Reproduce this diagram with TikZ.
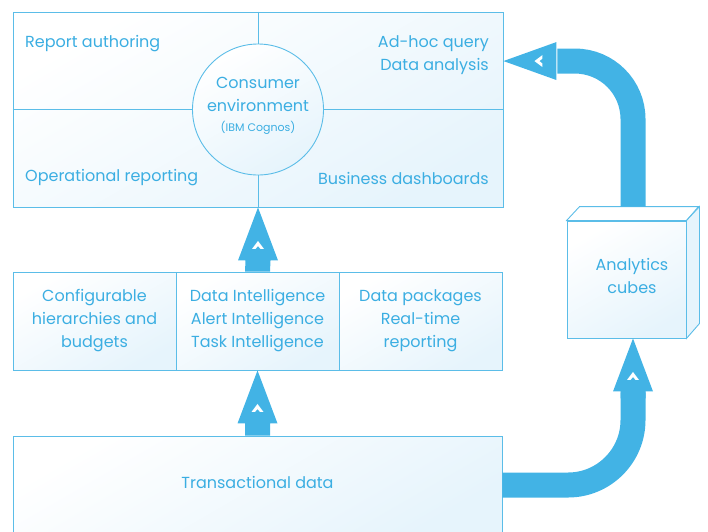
\documentclass[tikz,border=0pt]{standalone}
\usepackage{fontspec}
\setmainfont{Poppins}
\usetikzlibrary{calc}
\definecolor{txtc}{HTML}{3BAEE2}
\definecolor{linec}{HTML}{5BBDE8}
\definecolor{arrowc}{HTML}{42B3E5}
\definecolor{boxblue}{HTML}{E6F4FC}
\tikzset{
  box/.style={draw=linec, line width=0.9pt, top color=white, bottom color=boxblue, shading angle=30, inner sep=0pt, text=txtc, align=center, font=\fontsize{16}{23}\selectfont},
  divider/.style={draw=linec, line width=0.9pt},
  lbl/.style={text=txtc, inner sep=0pt, font=\fontsize{16}{23}\selectfont},
  fatline/.style={draw=arrowc, line width=25pt},
  chev/.style={fill=white},
}
\newcommand\fatup[2]{%
  \fill[arrowc] ($(#1)+(-12.5,0)$) -- ($(#2)+(-12.5,53)$) -- ($(#2)+(-20,53)$) -- (#2) -- ($(#2)+(20,53)$) -- ($(#2)+(12.5,53)$) -- ($(#1)+(12.5,0)$) -- cycle;
  \fill[chev] ($(#2)+(0,33.5)$) -- ++(6,8) -- ++(-3.5,0) -- ++(-2.5,-3) -- ++(-2.5,3) -- ++(-3.5,0) -- cycle;
}
\begin{document}
\begin{tikzpicture}[x=1pt,y=-1pt]
\useasboundingbox (0,0) rectangle (708,531);
% top box
\node[box, minimum width=490pt, minimum height=195pt] (top) at (258,109.5) {};
\node[box, circle, minimum size=131pt] (cons) at (258,109.5) {};
\node[lbl, align=center] (consT) at (258,106)
  {Consumer\\environment\\[-3pt]{\fontsize{11}{12}\selectfont (IBM Cognos)}};
\draw[divider] (top.north) -- (cons.north);
\draw[divider] (cons.south) -- (top.south);
\draw[divider] (top.west) -- (cons.west);
\draw[divider] (cons.east) -- (top.east);
\node[lbl, anchor=west] (ra) at (25,44) {Report authoring};
\node[lbl, anchor=west] (op) at (25,178) {Operational reporting};
\node[lbl, anchor=east, align=right] (ah) at (489,55.5) {Ad-hoc query\\Data analysis};
\node[lbl, anchor=east] (bd) at (489,178) {Business dashboards};
% middle boxes
\node[box, minimum width=163pt, minimum height=98pt] (m1) at (94.5,321) {Configurable\\hierarchies and\\budgets};
\node[box, minimum width=163pt, minimum height=98pt] (m2) at (257.5,321) {Data Intelligence\\Alert Intelligence\\Task Intelligence};
\node[box, minimum width=163pt, minimum height=98pt] (m3) at (420.5,321) {Data packages\\Real-time\\reporting};
% bottom box
\node[box, minimum width=489pt, minimum height=98pt] (bot) at (257.5,485) {};
\node[lbl] (botT) at (257.5,482) {Transactional data};
% cube
\node[box, minimum width=119pt, minimum height=117pt] (cube) at (626.5,279.5) {};
\node[lbl, align=center] (cubeT) at (632,275.5) {Analytics\\cubes};
\filldraw[draw=linec, line width=0.9pt, fill=white] (cube.north west) -- ++(13,-14) -- ++(119,0) -- (cube.north east) -- cycle;
\filldraw[draw=linec, line width=0.9pt, fill=boxblue] (cube.north east) -- ++(13,-14) -- ++(0,117) -- (cube.south east) -- cycle;
% straight arrows
\fatup{m2.north}{top.south}
\fatup{bot.north}{m2.south}
% curved arrow bottom -> cube
\coordinate (cb) at ($(cube.south)+(6.5,0)$);
\draw[fatline, rounded corners=65pt] (bot.east) -- (bot.east -| cb) -- ($(cb)+(0,54)$);
\fatup{$(cb)+(0,60)$}{cb}
% curved arrow cube -> top
\coordinate (ct) at ($(cube.north)+(6.5,-14)$);
\coordinate (tip) at ($(top.north east)+(0,49.5)$);
\draw[fatline, rounded corners=58pt] (ct) -- (ct |- tip) -- ($(tip)+(54,0)$);
\fill[arrowc] ($(tip)+(53,-12.5)$) -- ($(tip)+(53,-19)$) -- (tip) -- ($(tip)+(53,19)$) -- ($(tip)+(53,12.5)$) -- cycle;
\fill[chev] ($(tip)+(31,0)$) -- ++(8,-6) -- ++(0,3.5) -- ++(-3,2.5) -- ++(3,2.5) -- ++(0,3.5) -- cycle;
\end{tikzpicture}
\end{document}
